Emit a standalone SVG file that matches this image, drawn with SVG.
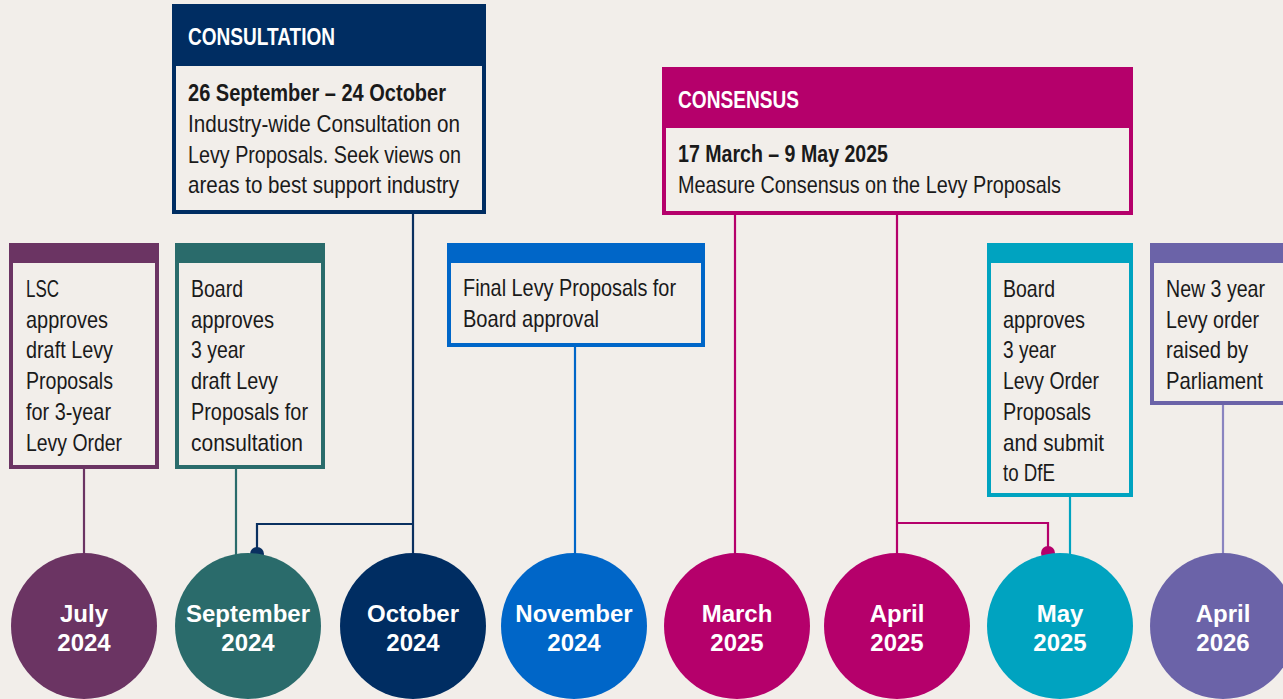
<svg xmlns="http://www.w3.org/2000/svg" width="1283" height="699" viewBox="0 0 1283 699">
<style>
.t{font-family:"Liberation Sans",Arial,sans-serif;font-size:24px;fill:#1a1a1a}
.b{font-weight:bold}
.h{font-family:"Liberation Sans",Arial,sans-serif;font-size:24px;font-weight:bold;fill:#fff}
.c{font-family:"Liberation Sans",Arial,sans-serif;font-size:24px;font-weight:bold;fill:#fff;text-anchor:middle}
.box{fill:#f2eeea;stroke-width:4}
.ln{fill:none;stroke-width:2.2}
</style>
<rect width="1283" height="699" fill="#f2eeea"/>
<g id="connectors">
<line class="ln" x1="84" y1="467" x2="84" y2="555" stroke="#6b3463"/>
<line class="ln" x1="236" y1="467" x2="236" y2="555" stroke="#2a6b6b"/>
<polyline class="ln" points="413,212 413,555" stroke="#0a3060"/>
<polyline class="ln" points="413,524 257,524 257,554" stroke="#0a3060"/>
<circle cx="257" cy="554" r="7" fill="#0a3060"/>
<line class="ln" x1="575" y1="345" x2="575" y2="555" stroke="#0066c8"/>
<line class="ln" x1="735" y1="213" x2="735" y2="555" stroke="#b5006b"/>
<polyline class="ln" points="897,213 897,555" stroke="#b5006b"/>
<polyline class="ln" points="897,523 1048,523 1048,553" stroke="#b5006b"/>
<circle cx="1048" cy="553" r="7" fill="#b5006b"/>
<line class="ln" x1="1070" y1="495" x2="1070" y2="555" stroke="#00a3c0"/>
<line class="ln" x1="1223" y1="403" x2="1223" y2="555" stroke="#8a84c0"/>
</g>
<g id="box-consultation">
<rect class="box" x="174" y="6" width="310" height="206" stroke="#002d62"/>
<rect x="172" y="4" width="314" height="62" fill="#002d62"/>
<text class="h" x="188" y="45" textLength="147" lengthAdjust="spacingAndGlyphs">CONSULTATION</text>
<text class="t b" x="188" y="101" textLength="258" lengthAdjust="spacingAndGlyphs">26 September – 24 October</text>
<text class="t" x="188" y="132" textLength="272" lengthAdjust="spacingAndGlyphs">Industry-wide Consultation on</text>
<text class="t" x="188" y="163" textLength="273" lengthAdjust="spacingAndGlyphs">Levy Proposals. Seek views on</text>
<text class="t" x="188" y="193" textLength="271" lengthAdjust="spacingAndGlyphs">areas to best support industry</text>
</g>
<g id="box-consensus">
<rect class="box" x="664" y="69" width="467" height="144" stroke="#b5006b"/>
<rect x="662" y="67" width="471" height="61" fill="#b5006b"/>
<text class="h" x="678" y="108" textLength="121" lengthAdjust="spacingAndGlyphs">CONSENSUS</text>
<text class="t b" x="678" y="162" textLength="210" lengthAdjust="spacingAndGlyphs">17 March – 9 May 2025</text>
<text class="t" x="678" y="193" textLength="383" lengthAdjust="spacingAndGlyphs">Measure Consensus on the Levy Proposals</text>
</g>
<g id="box-lsc">
<rect class="box" x="11" y="245" width="146" height="222" stroke="#6b3463"/>
<rect x="9" y="243" width="150" height="20" fill="#6b3463"/>
<text class="t" x="26" y="297" textLength="33" lengthAdjust="spacingAndGlyphs">LSC</text>
<text class="t" x="26" y="328" textLength="82" lengthAdjust="spacingAndGlyphs">approves</text>
<text class="t" x="26" y="358" textLength="87" lengthAdjust="spacingAndGlyphs">draft Levy</text>
<text class="t" x="26" y="389" textLength="87" lengthAdjust="spacingAndGlyphs">Proposals</text>
<text class="t" x="26" y="420" textLength="85" lengthAdjust="spacingAndGlyphs">for 3-year</text>
<text class="t" x="26" y="451" textLength="96" lengthAdjust="spacingAndGlyphs">Levy Order</text>
</g>
<g id="box-board-sep">
<rect class="box" x="177" y="245" width="146" height="222" stroke="#2a6b6b"/>
<rect x="175" y="243" width="150" height="20" fill="#2a6b6b"/>
<text class="t" x="191" y="297" textLength="52" lengthAdjust="spacingAndGlyphs">Board</text>
<text class="t" x="191" y="328" textLength="83" lengthAdjust="spacingAndGlyphs">approves</text>
<text class="t" x="191" y="358" textLength="54" lengthAdjust="spacingAndGlyphs">3 year</text>
<text class="t" x="191" y="389" textLength="87" lengthAdjust="spacingAndGlyphs">draft Levy</text>
<text class="t" x="191" y="420" textLength="117" lengthAdjust="spacingAndGlyphs">Proposals for</text>
<text class="t" x="191" y="451" textLength="112" lengthAdjust="spacingAndGlyphs">consultation</text>
</g>
<g id="box-final">
<rect class="box" x="449" y="245" width="254" height="100" stroke="#0066c8"/>
<rect x="447" y="243" width="258" height="20" fill="#0066c8"/>
<text class="t" x="463" y="296" textLength="213" lengthAdjust="spacingAndGlyphs">Final Levy Proposals for</text>
<text class="t" x="463" y="327" textLength="136" lengthAdjust="spacingAndGlyphs">Board approval</text>
</g>
<g id="box-board-may">
<rect class="box" x="989" y="245" width="142" height="250" stroke="#00a3c0"/>
<rect x="987" y="243" width="146" height="20" fill="#00a3c0"/>
<text class="t" x="1003" y="297" textLength="52" lengthAdjust="spacingAndGlyphs">Board</text>
<text class="t" x="1003" y="328" textLength="82" lengthAdjust="spacingAndGlyphs">approves</text>
<text class="t" x="1003" y="358" textLength="53" lengthAdjust="spacingAndGlyphs">3 year</text>
<text class="t" x="1003" y="389" textLength="96" lengthAdjust="spacingAndGlyphs">Levy Order</text>
<text class="t" x="1003" y="420" textLength="88" lengthAdjust="spacingAndGlyphs">Proposals</text>
<text class="t" x="1003" y="451" textLength="101" lengthAdjust="spacingAndGlyphs">and submit</text>
<text class="t" x="1003" y="481" textLength="52" lengthAdjust="spacingAndGlyphs">to DfE</text>
</g>
<g id="box-parliament">
<rect class="box" x="1152" y="245" width="150" height="158" stroke="#6b63a8"/>
<rect x="1150" y="243" width="150" height="20" fill="#6b63a8"/>
<text class="t" x="1166" y="297" textLength="99" lengthAdjust="spacingAndGlyphs">New 3 year</text>
<text class="t" x="1166" y="328" textLength="93" lengthAdjust="spacingAndGlyphs">Levy order</text>
<text class="t" x="1166" y="358" textLength="82" lengthAdjust="spacingAndGlyphs">raised by</text>
<text class="t" x="1166" y="389" textLength="97" lengthAdjust="spacingAndGlyphs">Parliament</text>
</g>
<g id="c-jul"><circle cx="84" cy="626" r="73" fill="#6b3463"/><text class="c" x="84" y="622">July</text><text class="c" x="84" y="651">2024</text></g>
<g id="c-sep"><circle cx="248" cy="626" r="73" fill="#2a6b6b"/><text class="c" x="248" y="622">September</text><text class="c" x="248" y="651">2024</text></g>
<g id="c-oct"><circle cx="413" cy="626" r="73" fill="#002d62"/><text class="c" x="413" y="622">October</text><text class="c" x="413" y="651">2024</text></g>
<g id="c-nov"><circle cx="574" cy="626" r="73" fill="#0066c8"/><text class="c" x="574" y="622">November</text><text class="c" x="574" y="651">2024</text></g>
<g id="c-mar"><circle cx="737" cy="626" r="73" fill="#b5006b"/><text class="c" x="737" y="622">March</text><text class="c" x="737" y="651">2025</text></g>
<g id="c-apr25"><circle cx="897" cy="626" r="73" fill="#b5006b"/><text class="c" x="897" y="622">April</text><text class="c" x="897" y="651">2025</text></g>
<g id="c-may"><circle cx="1060" cy="626" r="73" fill="#00a3c0"/><text class="c" x="1060" y="622">May</text><text class="c" x="1060" y="651">2025</text></g>
<g id="c-apr26"><circle cx="1223" cy="626" r="73" fill="#6b63a8"/><text class="c" x="1223" y="622">April</text><text class="c" x="1223" y="651">2026</text></g>
</svg>
